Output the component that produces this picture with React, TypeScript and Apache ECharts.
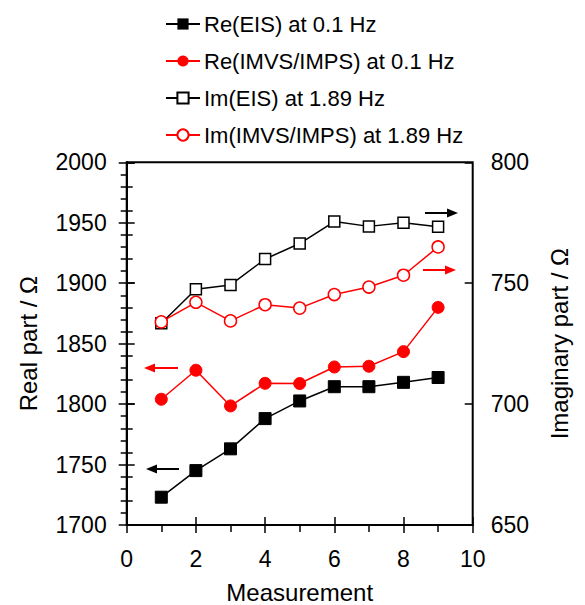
import React, { useEffect, useRef } from "react";
import * as echarts from "echarts";

const measurement = [1, 2, 3, 4, 5, 6, 7, 8, 9];
const reEIS = [1723, 1745, 1763, 1788, 1802.6, 1814.4, 1814.4, 1818, 1822];
const reIMVS = [1804, 1828, 1798.5, 1817.2, 1817, 1830.7, 1831.3, 1843.4, 1880];
const imEIS = [733.4, 747.5, 749.3, 760, 766.4, 775.5, 773.5, 775, 773.3];
const imIMVS = [734, 742.1, 734.4, 741.1, 739.7, 745.3, 748.4, 753.3, 765];
const seriesNames = [
  "Re(EIS) at 0.1 Hz",
  "Re(IMVS/IMPS) at 0.1 Hz",
  "Im(EIS) at 1.89 Hz",
  "Im(IMVS/IMPS) at 1.89 Hz",
];

const FONT = "Arial, 'Liberation Sans', sans-serif";

function pairs(ys: number[]) {
  return measurement.map((x, i) => [x, ys[i]]);
}

function arrow(x1: number, x2: number, y: number, color: string, dir: "left" | "right") {
  const tip = dir === "right" ? x2 : x1;
  const base = dir === "right" ? x2 - 11 : x1 + 11;
  return [
    {
      type: "line",
      shape: { x1: dir === "right" ? x1 : base, y1: y, x2: dir === "right" ? base : x2, y2: y },
      style: { stroke: color, lineWidth: 2 },
    },
    {
      type: "polygon",
      shape: { points: [[tip, y], [base, y - 4.5], [base, y + 4.5]] },
      style: { fill: color },
    },
  ];
}

export default function App() {
  const ref = useRef<HTMLDivElement>(null);
  useEffect(() => {
    if (!ref.current) return;
    const chart = echarts.init(ref.current, null, { renderer: "svg" });
    const axisLine = { show: true, lineStyle: { color: "#000", width: 2 } };
    const outTick = { show: true, inside: false, length: 8, lineStyle: { color: "#000", width: 1.5 } };
    const inTick = { show: true, inside: true, length: 8, lineStyle: { color: "#000", width: 1.5 } };
    const label = { color: "#000", fontSize: 23, fontFamily: FONT, formatter: (v: number) => String(v) };
    const nameStyle = { color: "#000", fontSize: 24, fontFamily: FONT };
    const option: any = {
      animation: false,
      backgroundColor: "#fff",
      grid: {
        left: 126.7,
        right: 112.3,
        top: 162.3,
        bottom: 80,
        containLabel: false,
        outerBoundsMode: "none",
        show: true,
        borderColor: "#000",
        borderWidth: 2,
        backgroundColor: "transparent",
      },
      legend: {
        orient: "vertical",
        left: 160,
        top: 8,
        itemWidth: 34,
        itemHeight: 14,
        itemGap: 15,
        textStyle: { color: "#000", fontSize: 22, fontFamily: FONT, padding: [0, 0, 0, -1] },
        data: seriesNames,
      },
      xAxis: [
        {
          type: "value",
          min: 0,
          max: 10,
          interval: 2,
          position: "bottom",
          name: "Measurement",
          nameLocation: "middle",
          nameGap: 55,
          nameTextStyle: nameStyle,
          axisLine,
          axisTick: outTick,
          minorTick: { show: true, splitNumber: 2, length: 7, lineStyle: { color: "#000", width: 1.5 } },
          axisLabel: { ...label, margin: 22 },
          splitLine: { show: false },
        },
        {
          type: "value",
          min: 0,
          max: 10,
          interval: 2,
          position: "bottom",
          axisLine: { show: false },
          axisTick: inTick,
          axisLabel: { show: false },
          splitLine: { show: false },
        },
      ],
      yAxis: [
        {
          type: "value",
          min: 1700,
          max: 2000,
          interval: 50,
          position: "left",
          name: "Real part / Ω",
          nameLocation: "middle",
          nameGap: 86,
          nameRotate: 90,
          nameTextStyle: nameStyle,
          axisLine,
          axisTick: outTick,
          minorTick: { show: true, splitNumber: 5, length: 6, lineStyle: { color: "#000", width: 1.5 } },
          axisLabel: { ...label, margin: 20 },
          splitLine: { show: false },
        },
        {
          type: "value",
          min: 650,
          max: 800,
          interval: 50,
          position: "right",
          name: "Imaginary part / Ω",
          nameLocation: "middle",
          nameGap: 75,
          nameRotate: 90,
          nameTextStyle: nameStyle,
          axisLine,
          axisTick: outTick,
          minorTick: { show: true, splitNumber: 5, length: 6, lineStyle: { color: "#000", width: 1.5 } },
          axisLabel: { ...label, margin: 18 },
          splitLine: { show: false },
        },
        {
          type: "value",
          min: 1700,
          max: 2000,
          interval: 50,
          position: "left",
          axisLine: { show: false },
          axisTick: inTick,
          axisLabel: { show: false },
          splitLine: { show: false },
        },
        {
          type: "value",
          min: 650,
          max: 800,
          interval: 50,
          position: "right",
          axisLine: { show: false },
          axisTick: inTick,
          axisLabel: { show: false },
          splitLine: { show: false },
        },
      ],
      series: [
        {
          name: seriesNames[0],
          type: "line",
          yAxisIndex: 0,
          data: pairs(reEIS),
          symbol: "rect",
          symbolSize: 12,
          lineStyle: { color: "#000", width: 1.5 },
          itemStyle: { color: "#000", borderColor: "#000" },
          z: 4,
        },
        {
          name: seriesNames[1],
          type: "line",
          yAxisIndex: 0,
          data: pairs(reIMVS),
          symbol: "circle",
          symbolSize: 12,
          lineStyle: { color: "#ff0000", width: 1.5 },
          itemStyle: { color: "#ff0000", borderColor: "#ff0000" },
          z: 4,
        },
        {
          name: seriesNames[2],
          type: "line",
          yAxisIndex: 1,
          data: pairs(imEIS),
          symbol: "rect",
          symbolSize: 11,
          lineStyle: { color: "#000", width: 1.5 },
          itemStyle: { color: "#fff", borderColor: "#000", borderWidth: 1.5 },
          z: 3,
        },
        {
          name: seriesNames[3],
          type: "line",
          yAxisIndex: 1,
          data: pairs(imIMVS),
          symbol: "circle",
          symbolSize: 12,
          lineStyle: { color: "#ff0000", width: 1.5 },
          itemStyle: { color: "#fff", borderColor: "#ff0000", borderWidth: 1.5 },
          z: 4,
        },
      ],
      graphic: [
        ...arrow(425, 458, 213, "#000", "right"),
        ...arrow(423, 456, 270, "#ff0000", "right"),
        ...arrow(144, 178, 368, "#ff0000", "left"),
        ...arrow(146, 179, 469, "#000", "left"),
      ],
    };
    chart.setOption(option);
    return () => chart.dispose();
  }, []);
  return <div ref={ref} style={{ width: 585, height: 605, position: "absolute", left: 0, top: 0 }} />;
}
